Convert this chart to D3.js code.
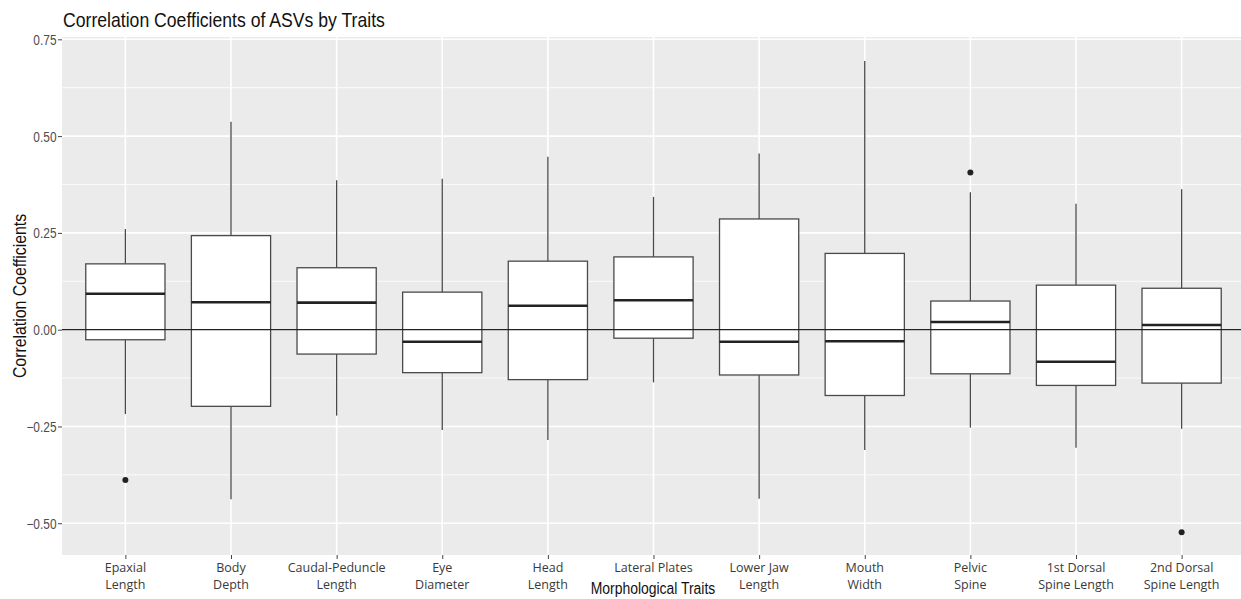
<!DOCTYPE html>
<html>
<head>
<meta charset="utf-8">
<script src="https://cdn.jsdelivr.net/npm/d3@7"></script>
<style>
  body { margin: 0; background: #ffffff; }
</style>
</head>
<body>
<div id="container"></div>
<script>
// data
let traits = ["Epaxial Length", "Body Depth", "Caudal-Peduncle Length", "Eye Diameter", "Head Length",
  "Lateral Plates", "Lower Jaw Length", "Mouth Width", "Pelvic Spine", "1st Dorsal Spine Length", "2nd Dorsal Spine Length"];
let traitLabels = [["Epaxial", "Length"], ["Body", "Depth"], ["Caudal-Peduncle", "Length"], ["Eye", "Diameter"],
  ["Head", "Length"], ["Lateral Plates"], ["Lower Jaw", "Length"], ["Mouth", "Width"], ["Pelvic", "Spine"],
  ["1st Dorsal", "Spine Length"], ["2nd Dorsal", "Spine Length"]];
let whiskerLow  = [-0.218, -0.438, -0.222, -0.259, -0.285, -0.136, -0.437, -0.311, -0.253, -0.305, -0.256];
let q1          = [-0.026, -0.198, -0.063, -0.111, -0.129, -0.022, -0.117, -0.170, -0.114, -0.144, -0.138];
let medians     = [ 0.093,  0.071,  0.070, -0.031,  0.062,  0.076, -0.031, -0.030,  0.020, -0.083,  0.012];
let q3          = [ 0.170,  0.243,  0.160,  0.097,  0.177,  0.188,  0.286,  0.197,  0.074,  0.115,  0.107];
let whiskerHigh = [ 0.260,  0.537,  0.386,  0.390,  0.447,  0.343,  0.455,  0.694,  0.355,  0.325,  0.363];
let outliers = [
  {trait: "Epaxial Length", value: -0.388},
  {trait: "Pelvic Spine", value: 0.406},
  {trait: "2nd Dorsal Spine Length", value: -0.523}
];
let yTicks = [-0.5, -0.25, 0, 0.25, 0.5, 0.75];
let yMinor = [-0.375, -0.125, 0.125, 0.375, 0.625];

let w = 1241;
let h = 599;
let pLeft = 62, pRight = 1245, pTop = 37, pBottom = 555;

let viz = d3.select("#container")
  .append("svg")
    .attr("width", w)
    .attr("height", h)
    .style("background-color", "white");

let xScale = d3.scalePoint().domain(traits).range([pLeft, pRight]).padding(0.6);
let yScale = d3.scaleLinear().domain([-0.582, 0.756]).range([pBottom, pTop]);
let boxW = xScale.step() * 0.75;

let boxes = traits.map(function(t, i){
  return {trait: t, label: traitLabels[i], lo: whiskerLow[i], q1: q1[i], med: medians[i], q3: q3[i], hi: whiskerHigh[i]};
});

// panel
viz.append("rect")
  .attr("x", pLeft).attr("y", pTop)
  .attr("width", pRight - pLeft).attr("height", pBottom - pTop)
  .attr("fill", "#ebebeb");

viz.selectAll(".minor").data(yMinor).enter()
  .append("line")
    .attr("x1", pLeft).attr("x2", pRight)
    .attr("y1", d => yScale(d)).attr("y2", d => yScale(d))
    .attr("stroke", "white").attr("stroke-width", 0.8);

viz.selectAll(".major").data(yTicks).enter()
  .append("line")
    .attr("x1", pLeft).attr("x2", pRight)
    .attr("y1", d => yScale(d)).attr("y2", d => yScale(d))
    .attr("stroke", "white").attr("stroke-width", 1.6);

viz.selectAll(".vgrid").data(traits).enter()
  .append("line")
    .attr("x1", d => xScale(d)).attr("x2", d => xScale(d))
    .attr("y1", pTop).attr("y2", pBottom)
    .attr("stroke", "white").attr("stroke-width", 1.6);

// boxes
let groups = viz.selectAll(".box").data(boxes).enter()
  .append("g")
    .attr("class", "box")
    .attr("transform", d => "translate(" + xScale(d.trait) + ",0)");

groups.append("line")
  .attr("x1", 0).attr("x2", 0)
  .attr("y1", d => yScale(d.hi)).attr("y2", d => yScale(d.q3))
  .attr("stroke", "#4a4a4a").attr("stroke-width", 1.3);
groups.append("line")
  .attr("x1", 0).attr("x2", 0)
  .attr("y1", d => yScale(d.q1)).attr("y2", d => yScale(d.lo))
  .attr("stroke", "#4a4a4a").attr("stroke-width", 1.3);
groups.append("rect")
  .attr("x", -boxW / 2).attr("width", boxW)
  .attr("y", d => yScale(d.q3))
  .attr("height", d => yScale(d.q1) - yScale(d.q3))
  .attr("fill", "white").attr("stroke", "#4a4a4a").attr("stroke-width", 1.3);
groups.append("line")
  .attr("x1", -boxW / 2).attr("x2", boxW / 2)
  .attr("y1", d => yScale(d.med)).attr("y2", d => yScale(d.med))
  .attr("stroke", "#222").attr("stroke-width", 2.6);

viz.selectAll(".outlier").data(outliers).enter()
  .append("circle")
    .attr("cx", d => xScale(d.trait))
    .attr("cy", d => yScale(d.value))
    .attr("r", 3)
    .attr("fill", "#222");

// zero line
viz.append("line")
  .attr("x1", pLeft).attr("x2", pRight)
  .attr("y1", yScale(0)).attr("y2", yScale(0))
  .attr("stroke", "#222").attr("stroke-width", 1.2);

// axes
let yAxis = d3.axisLeft(yScale).tickValues(yTicks).tickSize(4).tickFormat(d3.format(".2f"));
let yAxisGroup = viz.append("g").attr("transform", "translate(" + pLeft + ",0)").call(yAxis);
yAxisGroup.select(".domain").remove();
yAxisGroup.selectAll(".tick line").attr("stroke", "#444");
yAxisGroup.selectAll(".tick text")
  .attr("fill", "#4d4d4d")
  .style("font-family", "'Liberation Sans', Arial, sans-serif")
  .style("font-size", "14px")
  .attr("x", 0).attr("dy", "0.35em")
  .attr("transform", "translate(-5.5,0) scale(0.85,1)");

let xAxis = d3.axisBottom(xScale).tickSize(4).tickFormat("");
let xAxisGroup = viz.append("g").attr("transform", "translate(0," + pBottom + ")").call(xAxis);
xAxisGroup.select(".domain").remove();
xAxisGroup.selectAll(".tick line").attr("stroke", "#444");

let xLabels = viz.selectAll(".xlab").data(boxes).enter()
  .append("text")
    .attr("transform", d => "translate(" + xScale(d.trait) + ",0)")
    .attr("text-anchor", "middle")
    .attr("fill", "#3a3a3a")
    .style("font-family", "'Open Sans', sans-serif")
    .style("font-size", "12.5px");
xLabels.selectAll("tspan").data(d => d.label).enter()
  .append("tspan")
    .attr("x", 0)
    .attr("y", (d, i) => 571.5 + i * 17)
    .text(d => d);

// titles
viz.append("text")
  .text("Correlation Coefficients of ASVs by Traits")
  .attr("transform", "translate(63,27) scale(0.86,1)")
  .attr("fill", "#111")
  .style("font-family", "'Liberation Sans', Arial, sans-serif")
  .style("font-size", "20.5px");

viz.append("text")
  .text("Morphological Traits")
  .attr("transform", "translate(653,594) scale(0.87,1)")
  .attr("text-anchor", "middle")
  .attr("fill", "#111")
  .style("font-family", "'Liberation Sans', Arial, sans-serif")
  .style("font-size", "16px");

viz.append("text")
  .text("Correlation Coefficients")
  .attr("transform", "translate(26,296) rotate(-90) scale(0.88,1)")
  .attr("text-anchor", "middle")
  .attr("fill", "#111")
  .style("font-family", "'Liberation Sans', Arial, sans-serif")
  .style("font-size", "18px");
</script>
</body>
</html>
